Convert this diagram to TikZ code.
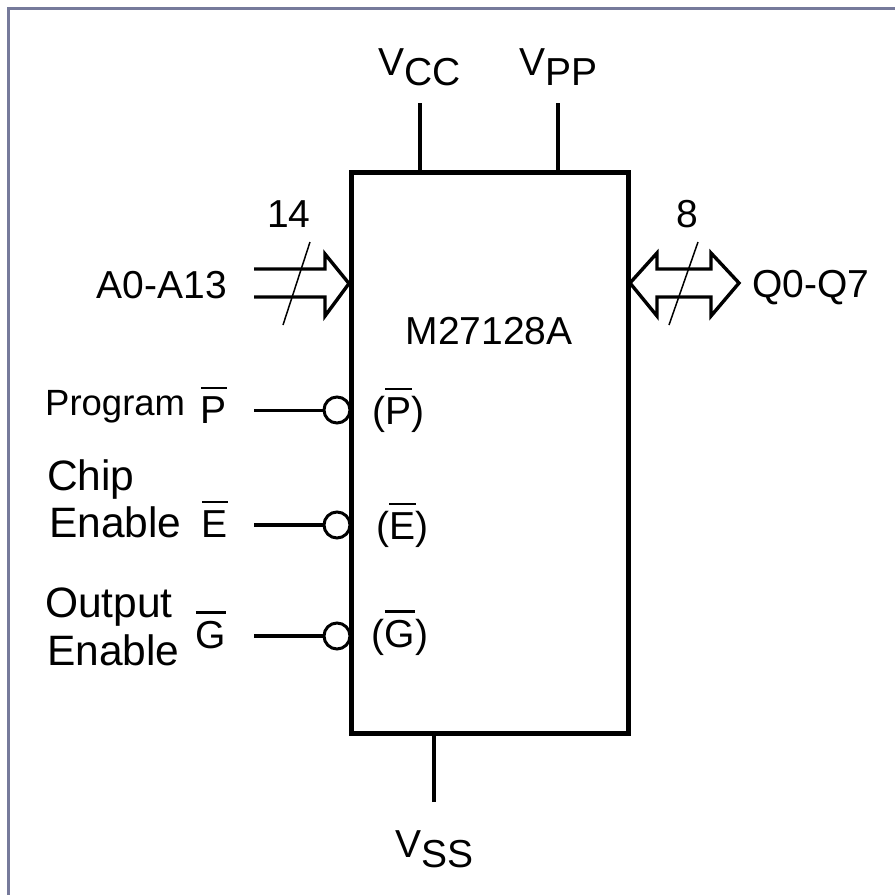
\documentclass[tikz,border=0pt]{standalone}
\usepackage{fontspec}
\setmainfont{Liberation Sans}
\definecolor{frame}{RGB}{118, 122, 155}
\usetikzlibrary{calc}
\tikzset{
    pinline/.style={line width=3.4pt, black},
    busline/.style={line width=3.4pt, black, line join=miter},
    slash/.style={line width=1.5pt, black},
    bubble/.style={circle, draw, line width=3pt, fill=white, inner sep=0pt, minimum size=26pt},
    txt/.style={font=\fontsize{39}{39}\selectfont, inner sep=0pt},
    bigtxt/.style={font=\fontsize{42.5}{42.5}\selectfont, inner sep=0pt},
}
\newcommand{\ovl}[1]{\vbox{\hrule height 2.4pt \kern 7pt \hbox{#1}}}
\begin{document}
\begin{tikzpicture}[x=1pt, y=-1pt]
    \useasboundingbox (0,0) rectangle (895,895);
    \fill[white] (0,0) rectangle (895,895);
    % outer frame
    \draw[frame, line width=3pt] (8.5,895) -- (8.5,8.5) -- (895,8.5);

    \node[bubble] (bp) at (337,410) {};
    \node[bubble] (be) at (337,525) {};
    \node[bubble] (bg) at (337,636) {};

    % chip
    \node[draw, line width=5pt, minimum width=277pt, minimum height=560.5pt, inner sep=0pt] (chip) at (489.5,452.75) {};
    \node[txt, anchor=base] (name) at (489,344) {M27128A};

    % supply pins
    \node[txt, anchor=base west] (vcc) at (378,75) {V\raisebox{-10pt}{CC}};
    \node[txt, anchor=base west] (vpp) at (519,75) {V\raisebox{-10pt}{PP}};
    \node[txt, anchor=base west] (vss) at (395,857) {V\raisebox{-10pt}{SS}};
    \coordinate (vcctop) at (420,103);
    \coordinate (vpptop) at (558,103);
    \coordinate (vssend) at (434,802);
    \draw[pinline] (vcctop) -- (vcctop |- chip.north);
    \draw[pinline] (vpptop) -- (vpptop |- chip.north);
    \draw[pinline] (vssend) -- (vssend |- chip.south);

    % address bus
    \node[txt, anchor=base east] (addr) at (227,298) {A0-A13};
    \node[txt] (n14) at (289,214) {14};
    \coordinate (addrbus) at (254,283);
    \draw[busline] (addrbus) ++(0,-14) -- ++(71,0) -- ++(0,-15) -- (349,283.5) -- (325,316) -- (325,297) -- (254,297);
    \draw[slash] (310,242) -- (283,325);

    % data bus
    \node[txt, anchor=base west] (data) at (752,297) {Q0-Q7};
    \node[txt] (n8) at (687,214) {8};
    \coordinate (databus) at (630,283);
    \draw[busline] (databus) -- (657,253) -- (657,269) -- (711,269) -- (711,253) -- (739,283) -- (711,316) -- (711,297) -- (657,297) -- (657,316) -- cycle;
    \draw[slash] (698,242) -- (669,325);

    % control pins
    \node[inner sep=0pt, font=\fontsize{36.5}{36.5}\selectfont, anchor=base west] (prog) at (45,415) {Program};
    \node[txt, anchor=base] (p) at (214,423) {\ovl{P}};
    \node[bigtxt, anchor=base west] (chipl) at (47,490) {Chip};
    \node[bigtxt, anchor=base west] (enl) at (49,537) {Enable};
    \node[txt, anchor=base] (e) at (215,537) {\ovl{E}};
    \node[bigtxt, anchor=base west] (outl) at (45,617) {Output};
    \node[bigtxt, anchor=base west] (ogl) at (47,665) {Enable};
    \node[txt, anchor=base] (g) at (211,648) {\ovl{G}};

    \coordinate (pfree) at (254,410);
    \coordinate (efree) at (254,525);
    \coordinate (gfree) at (254,636);
    \draw[line width=3pt] (pfree) -- (bp);
    \draw[pinline] (efree) -- (be);
    \draw[pinline] (gfree) -- (bg);

    \node[txt, anchor=base] (pin1) at (398.5,424) {(\ovl{P})};
    \node[txt, anchor=base] (pin2) at (402.5,539) {(\ovl{E})};
    \node[txt, anchor=base] (pin3) at (400,647) {(\ovl{G})};
\end{tikzpicture}
\end{document}
